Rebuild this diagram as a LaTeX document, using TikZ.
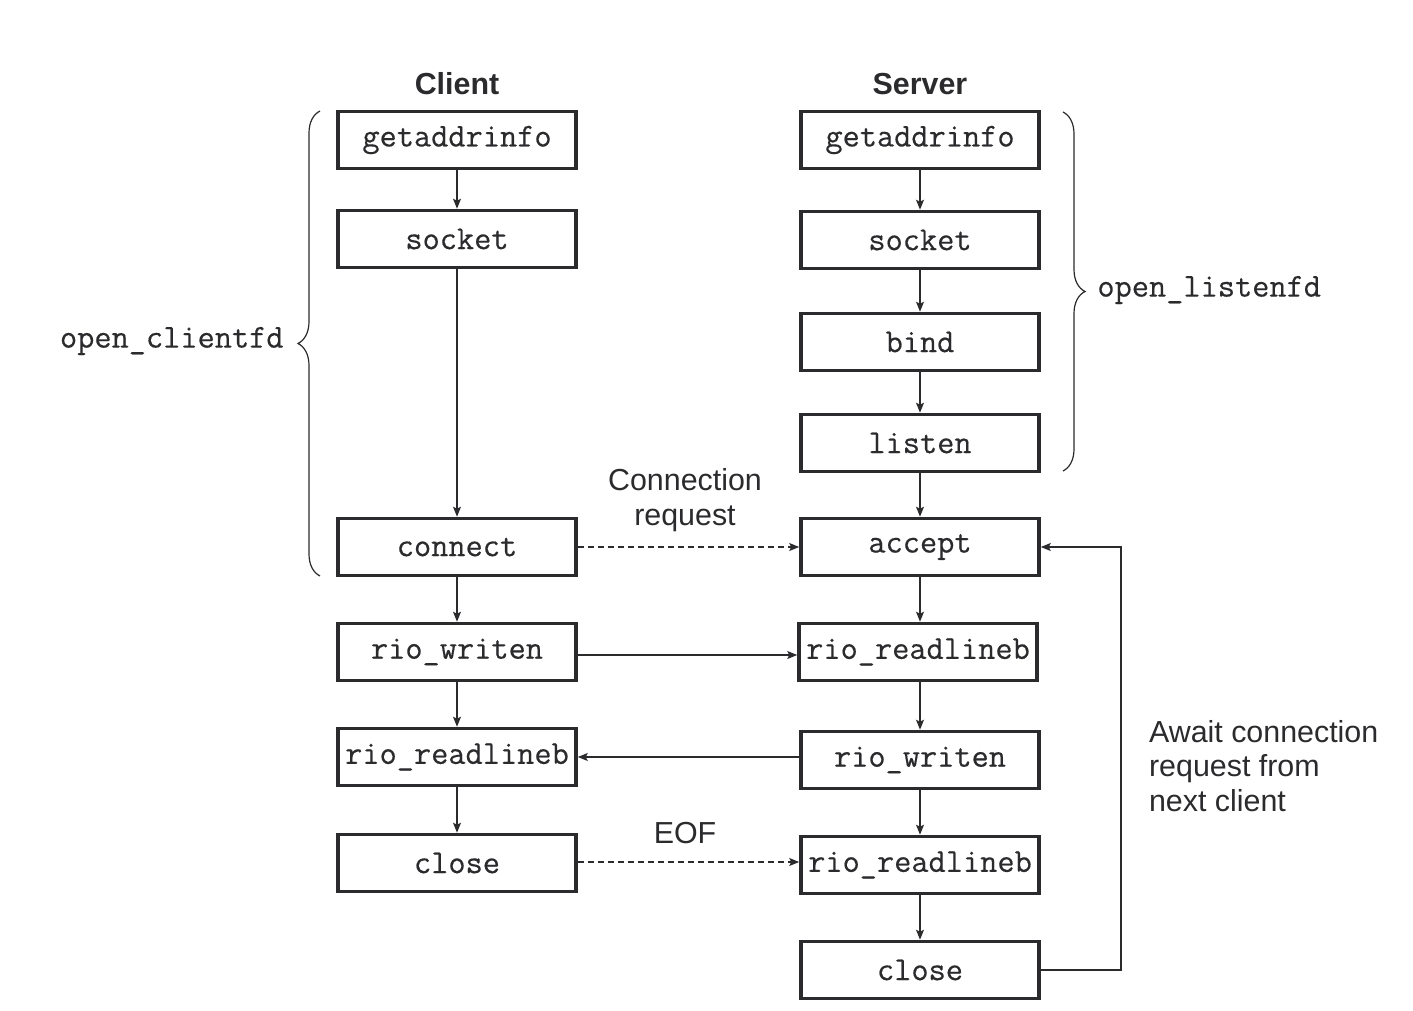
\documentclass[tikz,border=0pt]{standalone}
\usepackage{fontspec}
\setsansfont{Liberation Sans}
\newfontfamily\codefont{Latin Modern Mono}[FakeBold=0.35]
\usetikzlibrary{arrows.meta,decorations.pathreplacing}
\definecolor{ink}{HTML}{2B2B2E}
\begin{document}
\begin{tikzpicture}[x=0.5pt,y=-0.5pt,
  fn/.style={draw=ink,line width=1.8pt,fill=white,minimum width=119pt,
    minimum height=28.5pt,inner sep=0pt,text=ink,font=\fontsize{16.7}{16.7}\selectfont\codefont},
  flow/.style={draw=ink,line width=0.6pt,-{Stealth[length=5pt,width=4pt,inset=1pt]}},
  dash line/.style={dash pattern=on 3pt off 2pt},
  title/.style={text=ink,font=\fontsize{15.2}{17}\selectfont\sffamily\bfseries},
  note/.style={text=ink,align=left,font=\fontsize{15.2}{17.3}\selectfont\sffamily},
  fname/.style={text=ink,inner sep=0pt,font=\fontsize{16.7}{16.7}\selectfont\codefont},
  bracket/.style={draw=ink,line width=0.6pt,decorate,decoration={brace,amplitude=11pt}}
]
\useasboundingbox (0,0) rectangle (1413,1011);

% column headings
\node[title] (client) at (457,84) {Client};
\node[title] (server) at (920,84) {Server};

% client calls
\node[fn] (cga)  at (457,140) {getaddrinfo};
\node[fn] (cso)  at (457,239) {socket};
\node[fn] (ccon) at (457,547) {connect};
\node[fn] (cwr)  at (457,652) {rio\_writen};
\node[fn] (crd)  at (457,757) {rio\_readlineb};
\node[fn] (ccl)  at (457,863) {close};

% server calls
\node[fn] (sga)  at (920,140) {getaddrinfo};
\node[fn] (sso)  at (920,240) {socket};
\node[fn] (sbi)  at (920,342) {bind};
\node[fn] (sli)  at (920,443) {listen};
\node[fn] (sacc) at (920,547) {accept};
\node[fn] (srd1) at (918,652) {rio\_readlineb};
\node[fn] (swr)  at (920,760) {rio\_writen};
\node[fn] (srd2) at (920,865) {rio\_readlineb};
\node[fn] (scl)  at (920,970) {close};

% client sequence
\draw[flow] (cga) -- (cso);
\draw[flow] (cso) -- (ccon);
\draw[flow] (ccon) -- (cwr);
\draw[flow] (cwr) -- (crd);
\draw[flow] (crd) -- (ccl);

% server sequence
\draw[flow] (sga) -- (sso);
\draw[flow] (sso) -- (sbi);
\draw[flow] (sbi) -- (sli);
\draw[flow] (sli) -- (sacc);
\draw[flow] (sacc) -- (sacc |- srd1.north);
\draw[flow] (srd1.south -| swr) -- (swr);
\draw[flow] (swr) -- (srd2);
\draw[flow] (srd2) -- (scl);

% client/server exchanges
\draw[flow,dash line] (ccon) -- (sacc);
\draw[flow] (cwr.east |- 0,655) -- (srd1.west |- 0,655);
\draw[flow] (swr.west |- crd) -- (crd.east);
\draw[flow,dash line] (ccl.east |- 0,862) -- (srd2.west |- 0,862);

% loop back to accept
\coordinate (loop) at (1121,970);
\draw[flow] (scl.east) -- (loop) |- (sacc.east);

% labels
\node[note,align=center] (creq) at (685,500) {Connection\\request};
\node[note] (eof) at (685,833) {EOF};
\node[note,anchor=west] (await) at (1142,766) {Await connection\\request from\\next client};

% helper groupings
\draw[bracket] (320,576) -- (320,111);
\node[fname,anchor=east] (ocfd) at (284,341) {open\_clientfd};
\draw[bracket] (1063,112) -- (1063,471);
\node[fname,anchor=west] (olfd) at (1097,290) {open\_listenfd};
\end{tikzpicture}
\end{document}
